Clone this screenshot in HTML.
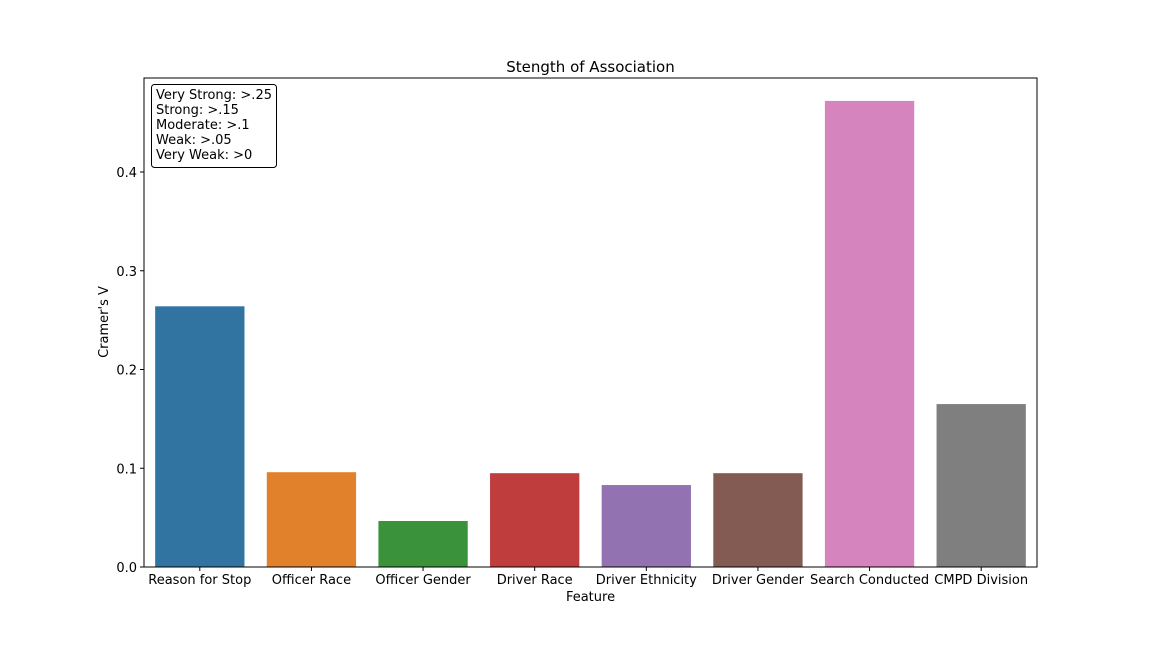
<!DOCTYPE html>
<html><head><meta charset="utf-8"><style>
body{margin:0;background:#fff;}
svg text{font-family:"DejaVu Sans","Liberation Sans",sans-serif;fill:#000;}
</style></head><body>
<svg id="chart" width="1152" height="648" xmlns="http://www.w3.org/2000/svg">
<rect width="1152" height="648" fill="#fff"/>
<g id="bars"></g>
<g id="axes"></g>
</svg>
<script>
const categories=["Reason for Stop","Officer Race","Officer Gender","Driver Race","Driver Ethnicity","Driver Gender","Search Conducted","CMPD Division"];
const values=[0.264,0.096,0.0466,0.095,0.083,0.095,0.472,0.165];
const colors=["#3274a1","#e1812c","#3a923a","#c03d3e","#9372b2","#845b53","#d684bd","#7f7f7f"];
const yTicks=[0.0,0.1,0.2,0.3,0.4];
const yTickLabels=["0.0","0.1","0.2","0.3","0.4"];
const L=144,R=1037,T=78,B=567,yMax=0.4952;
const NS="http://www.w3.org/2000/svg";
function y(v){return B-(v/yMax)*(B-T);}
const slot=(R-L)/categories.length;
function x(i){return L+slot*i;}
function mk(tag,attrs,parent){const e=document.createElementNS(NS,tag);for(const k in attrs)e.setAttribute(k,attrs[k]);parent.appendChild(e);return e;}
const bars=document.getElementById('bars');
const axes=document.getElementById('axes');
categories.forEach((c,i)=>{
  const r=mk('rect',{x:x(i)+slot*0.1,y:y(values[i]),width:slot*0.8,height:B-y(values[i]),fill:colors[i]},bars);
  
  
  mk('line',{x1:x(i)+slot/2,x2:x(i)+slot/2,y1:B,y2:B+4,stroke:'#000','stroke-width':1},axes);
  const t=mk('text',{x:x(i)+slot/2,y:B+17,'text-anchor':'middle','font-size':13},axes);
  t.textContent=c;
  
  
});
yTicks.forEach((v,i)=>{
  mk('line',{x1:L-4,x2:L,y1:y(v),y2:y(v),stroke:'#000','stroke-width':1},axes);
  const t=mk('text',{x:L-7,y:y(v)+5,'text-anchor':'end','font-size':13},axes);
  t.textContent=yTickLabels[i];
  
  
});
const frame=mk('rect',{x:L,y:T,width:R-L,height:B-T,fill:'none',stroke:'#000','stroke-width':1},axes);


</script>
<svg style="position:absolute;left:0;top:0" width="1152" height="648" xmlns="http://www.w3.org/2000/svg">
<text x="590.5" y="72" text-anchor="middle" font-size="15">Stength of Association</text>
<text x="590.5" y="601" text-anchor="middle" font-size="13">Feature</text>
<text transform="translate(108,322) rotate(-90)" text-anchor="middle" font-size="13">Cramer's V</text>
<g>
<rect x="151.5" y="84.5" width="125" height="83" rx="3" fill="#fff" stroke="#000"/>
<text x="156" y="99" font-size="13">Very Strong: &gt;.25</text>
<text x="156" y="114" font-size="13">Strong: &gt;.15</text>
<text x="156" y="129" font-size="13">Moderate: &gt;.1</text>
<text x="156" y="144" font-size="13">Weak: &gt;.05</text>
<text x="156" y="159" font-size="13">Very Weak: &gt;0</text>
</g>
</svg>
</body></html>
